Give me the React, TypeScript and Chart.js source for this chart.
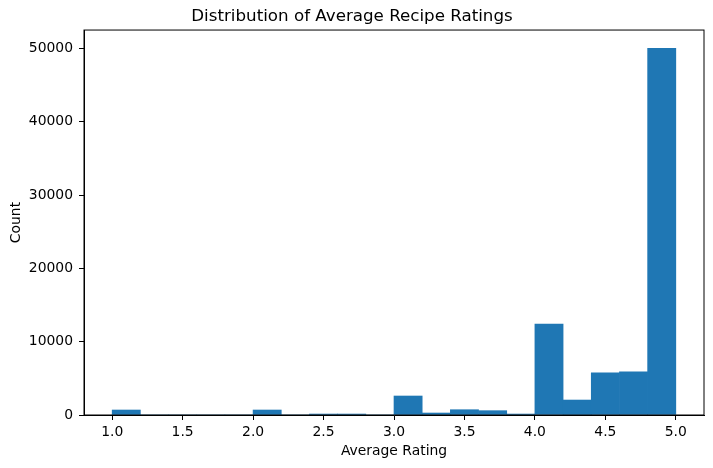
import React, { useEffect, useRef } from "react";
import { Chart, registerables } from "chart.js";

Chart.register(...registerables);

const binStarts = [1.0, 1.2, 1.4, 1.6, 1.8, 2.0, 2.2, 2.4, 2.6, 2.8, 3.0, 3.2, 3.4, 3.6, 3.8, 4.0, 4.2, 4.4, 4.6, 4.8];
const binWidth = 0.2;
const counts = [680, 0, 0, 0, 0, 680, 0, 130, 130, 0, 2590, 270, 720, 590, 130, 12400, 2040, 5760, 5900, 50000];
const xTicks = [1.0, 1.5, 2.0, 2.5, 3.0, 3.5, 4.0, 4.5, 5.0];
const yTicks = [0, 10000, 20000, 30000, 40000, 50000];

const FONT = "'DejaVu Sans', sans-serif";

const frame = {
  id: "frame",
  afterDraw(chart: any) {
    const { ctx, chartArea } = chart;
    ctx.save();
    ctx.strokeStyle = "#000";
    ctx.lineWidth = 1;
    ctx.strokeRect(chartArea.left, chartArea.top, chartArea.right - chartArea.left, chartArea.bottom - chartArea.top);
    ctx.restore();
  },
};

export default function App() {
  const ref = useRef<HTMLCanvasElement>(null);
  useEffect(() => {
    document.body.style.margin = "0";
    const data = binStarts.map((s, i) => ({ x: s + binWidth / 2, y: counts[i] }));
    const chart = new Chart(ref.current!, {
      type: "bar",
      data: {
        datasets: [
          {
            data: data as any,
            backgroundColor: "#1f77b4",
            borderWidth: 0,
            barPercentage: 1,
            categoryPercentage: 1,
          },
        ],
      },
      options: {
        animation: false,
        responsive: false,
        layout: { padding: { left: 0, right: 9, top: 0, bottom: 0 } },
        plugins: {
          legend: { display: false },
          tooltip: { enabled: false },
          title: {
            display: true,
            text: "Distribution of Average Recipe Ratings",
            color: "#000",
            font: { family: FONT, size: 16.7, weight: "normal" },
            padding: { top: 7, bottom: 3 },
          },
        },
        scales: {
          x: {
            type: "linear",
            min: 0.8,
            max: 5.2,
            offset: false,
            afterBuildTicks: (s: any) => {
              s.ticks = xTicks.map((v) => ({ value: v }));
            },
            afterFit: (s: any) => {
              s.height = 53;
            },
            ticks: {
              color: "#000",
              font: { family: FONT, size: 13.9 },
              padding: 4,
              maxRotation: 0,
              callback: (v: any) => Number(v).toFixed(1),
            },
            grid: { display: true, offset: false, drawOnChartArea: false, drawTicks: true, tickLength: 5, color: "#000" },
            border: { display: true, color: "#000" },
            title: {
              display: true,
              text: "Average Rating",
              color: "#000",
              font: { family: FONT, size: 13.9 },
              padding: { top: 0, bottom: 8 },
            },
          },
          y: {
            type: "linear",
            min: 0,
            max: 52500,
            afterBuildTicks: (s: any) => {
              s.ticks = yTicks.map((v) => ({ value: v }));
            },
            afterFit: (s: any) => {
              s.width = 84;
            },
            ticks: {
              color: "#000",
              font: { family: FONT, size: 13.9 },
              padding: 6,
              callback: (v: any) => String(v),
            },
            grid: { display: true, offset: false, drawOnChartArea: false, drawTicks: true, tickLength: 5, color: "#000" },
            border: { display: true, color: "#000" },
            title: {
              display: true,
              text: "Count",
              color: "#000",
              font: { family: FONT, size: 13.9 },
              padding: { top: 8, bottom: 0 },
            },
          },
        },
      },
      plugins: [frame],
    });
    return () => chart.destroy();
  }, []);
  return (
    <div style={{ width: 713, height: 468 }}>
      <canvas ref={ref} width={713} height={468} />
    </div>
  );
}
